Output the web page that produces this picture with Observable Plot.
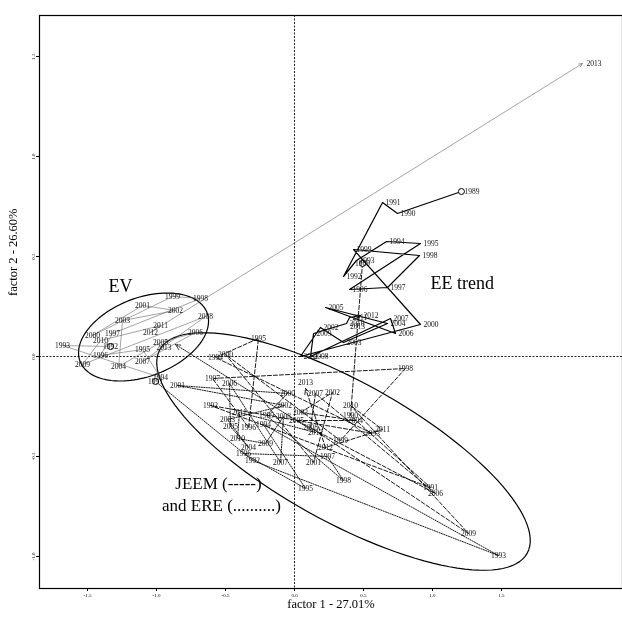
<!DOCTYPE html>
<html>
<head>
<meta charset="utf-8">
<script src="https://cdn.jsdelivr.net/npm/d3@7"></script>
<script src="https://cdn.jsdelivr.net/npm/@observablehq/plot@0.6"></script>
<style>
  html, body { margin: 0; padding: 0; background: white; }
  #chart { width: 622px; height: 621px; }
  #chart svg { will-change: transform; }
</style>
</head>
<body>
<div id="chart"></div>
<script>
// ---- data (factor coordinates) ----
const eeYear = [1989,1990,1991,1992,1993,1994,1995,1996,1997,1998,1999,2000,2001,2002,2003,2004,2005,2006,2007,2008,2009,2010,2011,2012,2013];
const eeX = [1.210,0.746,0.638,0.355,0.449,0.667,0.913,0.399,0.674,0.906,0.428,0.913,0.043,0.188,0.355,0.674,0.225,0.732,0.696,0.116,0.138,0.377,0.399,0.478,0.457];
const eeY = [0.825,0.715,0.770,0.400,0.480,0.575,0.565,0.335,0.345,0.505,0.535,0.160,0.000,0.145,0.070,0.165,0.245,0.115,0.190,0.000,0.115,0.165,0.195,0.205,0.195];

const evYear = [1992,1993,1994,1995,1996,1997,1998,1999,2000,2001,2002,2003,2004,2005,2006,2007,2008,2009,2010,2011,2012,2013];
const evX = [-1.333,-1.681,-0.971,-1.101,-1.406,-1.319,-0.681,-0.884,-1.464,-1.101,-0.862,-1.246,-1.275,-0.971,-0.717,-1.101,-0.645,-1.536,-1.406,-0.971,-1.043,2.087];
const evY = [0.050,0.055,-0.105,0.035,0.005,0.115,0.290,0.300,0.105,0.255,0.230,0.180,-0.050,0.070,0.120,-0.025,0.200,-0.040,0.080,0.155,0.120,1.465];

const jeemYear = [1989,1990,1991,1992,1993,1994,1995,1996,1997,1998,1999,2000,2001,2002,2003,2004,2005,2006,2007,2008,2009,2010,2011,2012,2013];
const jeemX = [0.493,0.406,0.986,-0.609,0.565,-0.572,-0.261,-0.333,-0.594,0.804,0.333,-0.500,0.138,0.275,0.043,0.442,0.014,1.022,0.152,0.116,1.261,0.406,0.638,0.225,0.080];
const jeemY = [0.465,-0.295,-0.655,-0.245,-0.385,-0.005,0.090,-0.355,-0.110,-0.060,-0.420,0.010,-0.530,-0.180,-0.280,-0.320,-0.320,-0.685,-0.185,-0.355,-0.885,-0.245,-0.365,-0.455,-0.160];

const ereYear = [1991,1992,1993,1994,1995,1996,1997,1998,1999,2000,2001,2002,2003,2004,2005,2006,2007,2008,2009,2010,2011,2012,2013];
const ereX = [-1.007,-0.304,1.478,-0.225,0.080,-0.370,0.239,0.355,-0.203,-0.051,-0.848,-0.072,-0.486,-0.333,-0.464,-0.471,-0.101,-0.080,-0.210,-0.413,-0.399,0.152,-0.862];
const ereY = [-0.125,-0.520,-0.995,-0.340,-0.660,-0.485,-0.500,-0.620,-0.295,-0.185,-0.145,-0.245,-0.315,-0.455,-0.350,-0.135,-0.530,-0.300,-0.435,-0.410,-0.280,-0.380,0.060];

// confidence ellipses: centre and two semi-axis vectors (data units)
const ellipseId = ["EV", "JEEM+ERE"];
const ellipseCx = [-1.094, 0.355];
const ellipseCy = [0.0975, -0.475];
const ellipseUx = [0.460, 1.331];
const ellipseUy = [0.122, -0.509];
const ellipseVx = [-0.102, 0.246];
const ellipseVy = [0.183, 0.306];

const xTicks = [-1.5, -1.0, -0.5, 0.0, 0.5, 1.0, 1.5];
const yTicks = [-1.0, -0.5, 0.0, 0.5, 1.0, 1.5];
const xTitle = "factor 1 - 27.01%";
const yTitle = "factor 2 - 26.60%";

// ---- build tables ----
const rows = (name, yrs, xs, ys) => yrs.map((yr, i) => ({journal: name, year: String(yr), x: xs[i], y: ys[i]}));
const ee = rows("EE", eeYear, eeX, eeY);
const ev = rows("EV", evYear, evX, evY);
const jeem = rows("JEEM", jeemYear, jeemX, jeemY);
const ere = rows("ERE", ereYear, ereX, ereY);

const ellPts = [];
ellipseId.forEach((id, k) => {
  for (let deg = 0; deg <= 360; deg += 3) {
    const t = deg * Math.PI / 180;
    ellPts.push({id,
      x: ellipseCx[k] + Math.cos(t) * ellipseUx[k] + Math.sin(t) * ellipseVx[k],
      y: ellipseCy[k] + Math.cos(t) * ellipseUy[k] + Math.sin(t) * ellipseVy[k]});
  }
});

const fmt = d => d.toFixed(1);
const FONT = "Liberation Serif, Times New Roman, serif";
const LABEL = {x: "x", y: "y", text: "year", fontSize: 7.5, fill: "#111", fontFamily: FONT};

function seriesMarks(data, lineOpts, labelOpts, endLabelOpts) {
  const n = data.length;
  const seg = [{x1: data[n-2].x, y1: data[n-2].y, x2: data[n-1].x, y2: data[n-1].y}];
  return [
    Plot.line(data.slice(0, n - 1), {x: "x", y: "y", ...lineOpts}),
    Plot.arrow(seg, {x1: "x1", y1: "y1", x2: "x2", y2: "y2", headLength: 10, headAngle: 50, ...lineOpts}),
    Plot.dot([data[0]], {x: "x", y: "y", r: 3, stroke: "black", strokeWidth: 1, fill: "white"}),
    Plot.text(data.slice(0, n - 1), {...LABEL, ...labelOpts}),
    Plot.text([data[n - 1]], {...LABEL, ...endLabelOpts})
  ];
}

const chart = Plot.plot({
  width: 622,
  height: 621,
  marginLeft: 39,
  marginRight: 0,
  marginTop: 15,
  marginBottom: 33,
  x: {domain: [-1.848, 2.377]},
  y: {domain: [-1.16, 1.705]},
  style: {fontFamily: FONT, background: "white", color: "black", overflow: "visible"},
  marks: [
    Plot.frame({stroke: "black", strokeWidth: 1.2}),
    Plot.ruleX([0], {stroke: "#222", strokeDasharray: "2,1.5", strokeWidth: 1}),
    Plot.ruleY([0], {stroke: "#222", strokeDasharray: "2,1.5", strokeWidth: 1}),
    Plot.axisX({ticks: xTicks, tickFormat: fmt, tickSize: 3, tickPadding: 2, fontSize: 5, label: null}),
    Plot.axisY({ticks: yTicks, tickFormat: fmt, tickSize: 3, tickPadding: 2, fontSize: 5, tickRotate: -90, label: null}),
    Plot.line(ellPts, {x: "x", y: "y", z: "id", stroke: "black", strokeWidth: 1.2, curve: "linear"}),
    ...seriesMarks(ev, {stroke: "#666", strokeWidth: 0.6}, {}, {textAnchor: "start", dx: 4}),
    ...seriesMarks(ere, {stroke: "black", strokeWidth: 0.9, strokeDasharray: "1.2,1.3"}, {}, {textAnchor: "end", dx: -4, dy: 3}),
    ...seriesMarks(jeem, {stroke: "black", strokeWidth: 0.9, strokeDasharray: "4,2"}, {}, {dy: -6}),
    ...seriesMarks(ee, {stroke: "black", strokeWidth: 1.2}, {textAnchor: "start", dx: 3}, {dy: 9}),
    Plot.text(["EV"], {x: () => -1.261, y: () => 0.35, text: d => d, fontSize: 18, fontFamily: FONT}),
    Plot.text(["EE trend"], {x: () => 0.986, y: () => 0.365, text: d => d, fontSize: 18, textAnchor: "start", fontFamily: FONT}),
    Plot.text(["JEEM (-----)"], {x: () => -0.551, y: () => -0.635, text: d => d, fontSize: 17, fontFamily: FONT}),
    Plot.text(["and ERE (..........)"], {x: () => -0.529, y: () => -0.745, text: d => d, fontSize: 17, fontFamily: FONT}),
    Plot.text([xTitle], {frameAnchor: "bottom", dy: 19, text: d => d, fontSize: 12.5, fontFamily: FONT}),
    Plot.text([yTitle], {frameAnchor: "left", dx: -27, dy: -6, rotate: -90, text: d => d, fontSize: 12.5, fontFamily: FONT})
  ]
});
document.getElementById("chart").appendChild(chart);
</script>
</body>
</html>
